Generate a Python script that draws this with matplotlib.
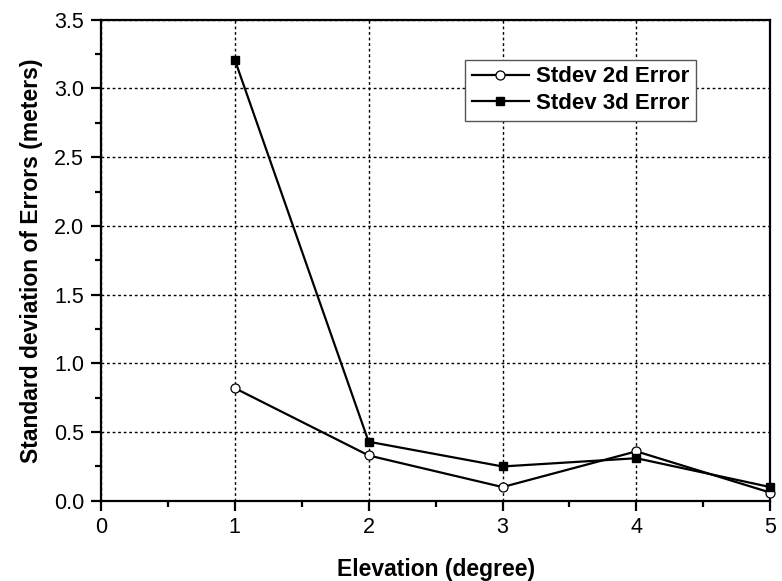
import numpy as np
import matplotlib
matplotlib.use("Agg")
import matplotlib.pyplot as plt
from matplotlib.ticker import MultipleLocator, FormatStrFormatter

plt.rcParams['font.family'] = ['Liberation Sans', 'DejaVu Sans']

# elevation bins and error spread per bin
elevation = [1, 2, 3, 4, 5]
stdev_2d = [0.82, 0.33, 0.10, 0.36, 0.06]
stdev_3d = [3.21, 0.43, 0.25, 0.31, 0.10]

fig = plt.figure(figsize=(7.82, 5.81), dpi=100)
ax = fig.add_axes([0.129, 0.138, 0.856, 0.828])

ax.plot(elevation, stdev_2d, color='black', lw=1.6, marker='o', ms=6.5,
        mfc='white', mec='black', mew=0.9, label='Stdev 2d Error', clip_on=False, zorder=3)
ax.plot(elevation, stdev_3d, color='black', lw=1.6, marker='s', ms=6,
        mfc='black', mec='black', label='Stdev 3d Error', clip_on=False, zorder=3)

ax.set_xlim(0, 5)
ax.set_ylim(0, 3.5)
ax.xaxis.set_major_locator(MultipleLocator(1))
ax.xaxis.set_minor_locator(MultipleLocator(0.5))
ax.yaxis.set_major_locator(MultipleLocator(0.5))
ax.yaxis.set_minor_locator(MultipleLocator(0.25))
ax.yaxis.set_major_formatter(FormatStrFormatter('%.1f'))

ax.grid(True, which='major', color='black', linestyle=(0, (2, 2)), linewidth=1.0)
ax.set_axisbelow(True)

for side in ['left', 'bottom', 'right', 'top']:
    ax.spines[side].set_linewidth(1.6)
ax.tick_params(which='major', direction='out', length=7, width=1.6, labelsize=15.5, pad=5)
ax.tick_params(which='minor', direction='out', length=4, width=1.6)

ax.set_xlabel('Elevation (degree)', fontsize=16.5, fontweight='bold', labelpad=14)
ax.set_ylabel('Standard deviation of Errors (meters)', fontsize=16.5, fontweight='bold', labelpad=8)

leg = ax.legend(loc='upper right', bbox_to_anchor=(0.889, 0.917), prop={'size': 16, 'weight': 'bold'},
                fancybox=False, framealpha=1, edgecolor='#555555', handlelength=2.6,
                handletextpad=0.3, borderpad=0.3, labelspacing=0.25, borderaxespad=0)
leg.get_frame().set_linewidth(1.0)

fig.savefig('out.png', dpi=100)
